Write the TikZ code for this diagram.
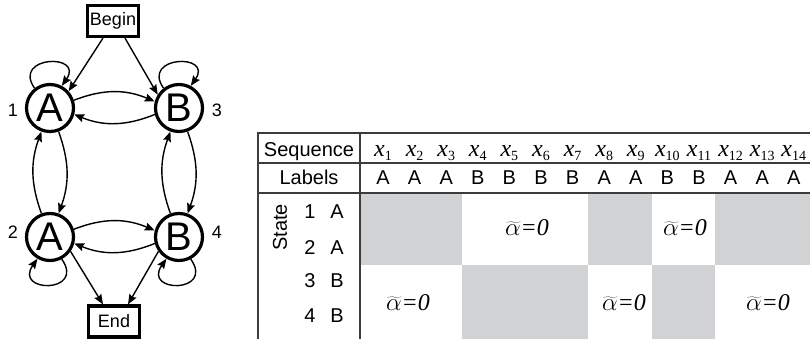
\documentclass[tikz,border=0pt]{standalone}
\usepackage{fontspec}
\setmainfont{Liberation Sans}
\newfontfamily\serifface{Liberation Serif}
\usetikzlibrary{arrows.meta}

\definecolor{cellgray}{RGB}{209,210,212}
\definecolor{rulegray}{RGB}{60,60,60}

% observation symbol x_i and the zero-alpha mark
\newcommand{\xsub}[1]{{\serifface\fontsize{24}{24}\selectfont\itshape x}\raisebox{-3.5pt}{\serifface\fontsize{14}{14}\selectfont #1}}
\newcommand{\azero}{{\fontsize{24}{24}\selectfont$\widetilde{\alpha}${\serifface\itshape =0}}}

\begin{document}
\begin{tikzpicture}[x=1pt,y=1pt,
  state/.style={circle,draw,line width=3.2pt,minimum size=47pt,inner sep=0pt,
    font=\fontsize{40}{40}\selectfont},
  termbox/.style={draw,line width=3.2pt,minimum width=51pt,minimum height=31pt,
    inner sep=0pt,font=\fontsize{18}{18}\selectfont},
  arr/.style={line width=1.4pt,-{Stealth[length=10pt,width=8pt,inset=1.5pt]}},
  num/.style={font=\fontsize{18}{18}\selectfont,inner sep=0pt},
  cell/.style={font=\fontsize{20}{20}\selectfont,inner sep=0pt},
  tabrule/.style={draw=rulegray,line width=1.5pt}]

\useasboundingbox (0,0) rectangle (810,339);

% ---------- state graph ----------
\node[termbox] (begin) at (113,318) {Begin};
\node[termbox] (end) at (114,17.5) {End};

\node[state] (A1) at (50,231) {A};
\node[state] (B3) at (179,231) {B};
\node[state] (A2) at (50,102) {A};
\node[state] (B4) at (179,102) {B};

\node[num] (n1) at (13,229) {1};
\node[num] (n3) at (217,229) {3};
\node[num] (n2) at (13,107) {2};
\node[num] (n4) at (217,107) {4};

\draw[arr] ([xshift=-10pt]begin.south) -- (A1.42);
\draw[arr] ([xshift=12pt]begin.south) -- (B3.148);

\draw[arr] (A1.18) to[bend left=22] (B3.165);
\draw[arr] (B3.195) to[bend left=22] (A1.-15);
\draw[arr] (A2.18) to[bend left=22] (B4.165);
\draw[arr] (B4.195) to[bend left=22] (A2.-15);

\draw[arr] (A1.-70) to[bend left=20] (A2.70);
\draw[arr] (A2.110) to[bend left=20] (A1.250);
\draw[arr] (B3.-70) to[bend left=20] (B4.70);
\draw[arr] (B4.110) to[bend left=20] (B3.250);

\draw[arr] (A1.128) .. controls +(125:40) and +(55:40) .. (A1.62);
\draw[arr] (B3.128) .. controls +(125:40) and +(55:40) .. (B3.62);
\draw[arr] (A2.-62) .. controls +(-55:42) and +(-125:42) .. (A2.-120);
\draw[arr] (B4.-62) .. controls +(-55:42) and +(-125:42) .. (B4.-120);

\draw[arr] (A2.-35) -- ([xshift=-11pt]end.north);
\draw[arr] (B4.215) -- ([xshift=14pt]end.north);

% ---------- table ----------
\fill[cellgray] (360,74) rectangle (462,146);
\fill[cellgray] (588,74) rectangle (652,146);
\fill[cellgray] (715,74) rectangle (810,146);
\fill[cellgray] (462,0) rectangle (588,74);
\fill[cellgray] (652,0) rectangle (715,74);

\draw[tabrule,line width=2pt] (258,206) -- (810,206);
\draw[tabrule] (258,176) -- (810,176);
\draw[tabrule] (258,146) -- (810,146);
\draw[tabrule,line width=2pt] (258,207) -- (258,0);
\draw[tabrule] (360,206) -- (360,0);

\node[cell,anchor=base] (seqhead) at (309,182) {Sequence};
\node[cell,anchor=base] (labhead) at (309,154) {Labels};

\foreach \i/\lab in {1/A,2/A,3/A,4/B,5/B,6/B,7/B,8/A,9/A,10/B,11/B,12/A,13/A,14/A} {
  \node[cell,anchor=base] (x\i) at ({383+(\i-1)*31.6},182) {\xsub{\i}};
  \node[cell,anchor=base] (l\i) at ({383+(\i-1)*31.6},154) {\lab};
}

\node[cell,rotate=90] (statehead) at (280,111.5) {State};
\node[cell] (s1) at (310,127) {1};
\node[cell] (s2) at (310,91) {2};
\node[cell] (s3) at (310,58.5) {3};
\node[cell] (s4) at (310,23) {4};
\node[cell] (t1) at (337,127) {A};
\node[cell] (t2) at (337,91) {A};
\node[cell] (t3) at (337,58.5) {B};
\node[cell] (t4) at (337,23) {B};

\node (z1) at (527,111) {\azero};
\node (z2) at (685,111) {\azero};
\node (z3) at (408,36) {\azero};
\node (z4) at (624,36) {\azero};
\node (z5) at (768,36) {\azero};

\end{tikzpicture}
\end{document}
